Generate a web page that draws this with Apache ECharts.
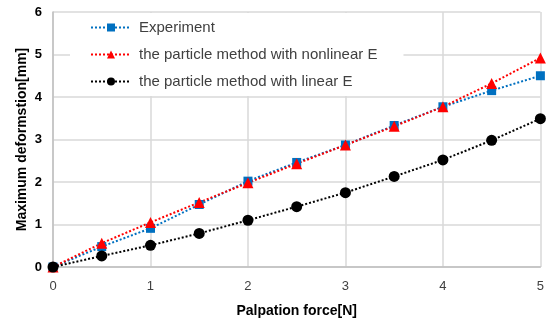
<!DOCTYPE html>
<html>
<head>
<meta charset="utf-8">
<script src="https://cdn.jsdelivr.net/npm/echarts@6/dist/echarts.min.js"></script>
<style>
  html, body { margin: 0; padding: 0; background: #fff; }
  #main { width: 547px; height: 323px; }
</style>
</head>
<body>
<div id="main"></div>
<script>
  // 数据
  var forces = [0, 0.5, 1, 1.5, 2, 2.5, 3, 3.5, 4, 4.5, 5];
  var experiment = [0, 0.48, 0.91, 1.47, 2.02, 2.46, 2.87, 3.33, 3.77, 4.15, 4.5];
  var nonlinearE = [0, 0.56, 1.05, 1.52, 1.98, 2.43, 2.87, 3.31, 3.77, 4.32, 4.92];
  var linearE = [0, 0.26, 0.51, 0.79, 1.1, 1.42, 1.75, 2.13, 2.52, 2.98, 3.49];
  var seriesNames = ['Experiment', 'the particle method with nonlinear E', 'the particle method with linear E'];

  var chart = echarts.init(document.getElementById('main'));

  function pairs(ys) {
    return forces.map(function (x, i) { return [x, ys[i]]; });
  }

  var font = 'Liberation Sans';

  var option = {
    animation: false,
    grid: { left: 53, right: 3, top: 12, bottom: 53 },
    legend: {
      orient: 'vertical',
      left: 70,
      top: 13,
      itemWidth: 40,
      itemHeight: 10,
      itemGap: 12,
      backgroundColor: '#fff',
      padding: [7, 26, 7, 20],
      textStyle: { fontFamily: font, fontSize: 15, color: '#404040', padding: [0, 0, 0, 3] },
      data: seriesNames
    },
    xAxis: {
      type: 'value',
      min: 0, max: 5, interval: 1,
      name: 'Palpation force[N]',
      nameLocation: 'middle',
      nameGap: 37,
      nameMoveOverlap: false,
      nameTextStyle: { fontFamily: font, fontSize: 14, fontWeight: 'bold', color: '#000' },
      axisLine: { lineStyle: { color: '#bfbfbf', width: 1.5 } },
      axisTick: { show: false },
      axisLabel: { fontFamily: font, fontSize: 13, color: '#404040', margin: 13 },
      splitLine: { lineStyle: { color: '#d9d9d9', width: 1.5 } }
    },
    yAxis: {
      type: 'value',
      min: 0, max: 6, interval: 1,
      name: 'Maximum deformstion[mm]',
      nameLocation: 'middle',
      nameGap: 24,
      nameMoveOverlap: false,
      nameTextStyle: { fontFamily: font, fontSize: 14, fontWeight: 'bold', color: '#000' },
      axisLine: { show: true, lineStyle: { color: '#bfbfbf', width: 1.5 } },
      axisTick: { show: false },
      axisLabel: { fontFamily: font, fontSize: 13, fontWeight: 'bold', color: '#000', margin: 11 },
      splitLine: { lineStyle: { color: '#d9d9d9', width: 1.5 } }
    },
    series: [
      {
        name: seriesNames[0],
        type: 'line',
        data: pairs(experiment),
        symbol: 'rect',
        symbolSize: 9,
        itemStyle: { color: '#0070c0' },
        lineStyle: { color: '#0070c0', type: 'dotted', width: 2 }
      },
      {
        name: seriesNames[1],
        type: 'line',
        data: pairs(nonlinearE),
        symbol: 'triangle',
        symbolSize: 11,
        itemStyle: { color: '#ff0000' },
        lineStyle: { color: '#ff0000', type: 'dotted', width: 2 }
      },
      {
        name: seriesNames[2],
        type: 'line',
        data: pairs(linearE),
        symbol: 'circle',
        symbolSize: 11,
        itemStyle: { color: '#000000' },
        lineStyle: { color: '#000000', type: 'dotted', width: 2 }
      }
    ]
  };

  chart.setOption(option);
</script>
</body>
</html>
